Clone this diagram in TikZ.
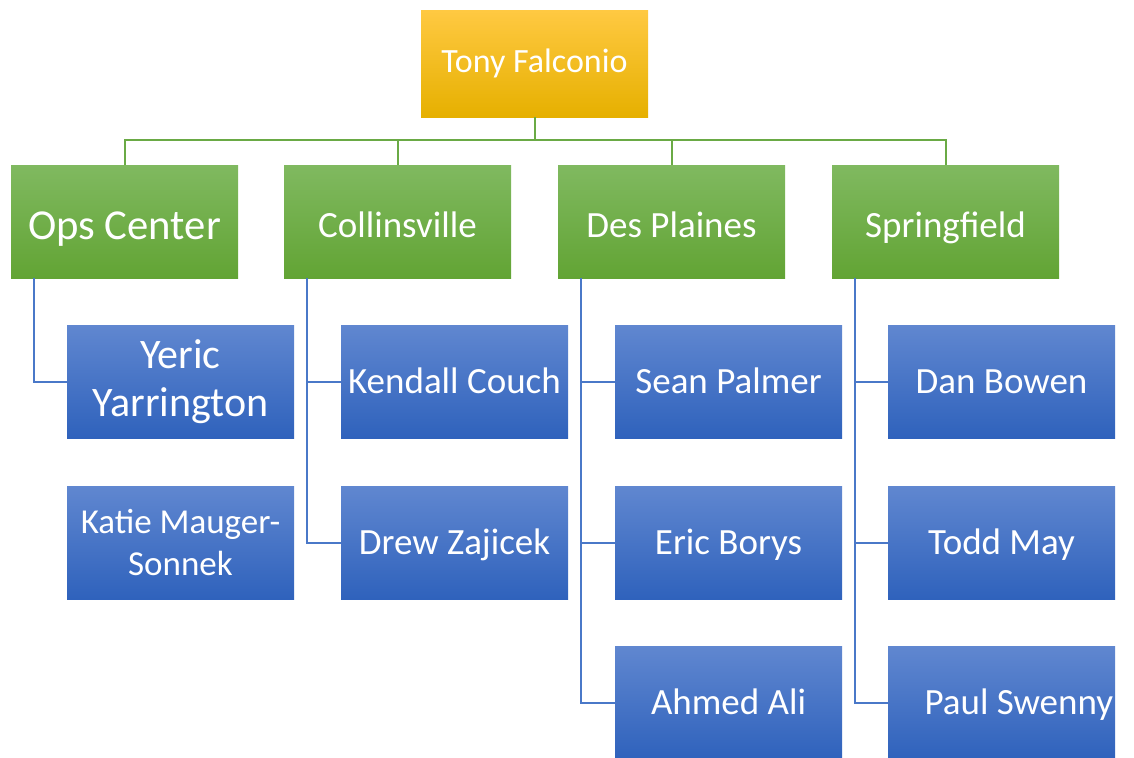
\documentclass[tikz,border=0pt]{standalone}
\usepackage{fontspec}
\setmainfont{Carlito}
\usepackage{tikz}
\usetikzlibrary{positioning}
\definecolor{bosstop}{HTML}{FFC942}
\definecolor{bossmid}{HTML}{FFC000}
\definecolor{bossbot}{HTML}{E6B000}
\definecolor{sitetop}{HTML}{80B960}
\definecolor{sitebot}{HTML}{62A434}
\definecolor{stafftop}{HTML}{6087D0}
\definecolor{staffbot}{HTML}{2F62BC}
\definecolor{greenline}{HTML}{6AAA45}
\definecolor{blueline}{HTML}{4A78C8}

\begin{document}
\begin{tikzpicture}[x=0.75pt, y=-0.75pt,
    box/.style={shape=rectangle, minimum width=170.25pt, minimum height=84.75pt,
        inner xsep=0pt, inner ysep=2pt, text=white, align=center, font=\fontsize{27.75}{32}\selectfont},
    boss/.style={box, minimum height=80.25pt, top color=bosstop, middle color=bossmid, bottom color=bossbot,
        font=\fontsize{25.5}{30}\selectfont, text height=19.5pt, text depth=6pt},
    site/.style={box, top color=sitetop, bottom color=sitebot, text height=30pt, text depth=6pt},
    staff/.style={box, top color=stafftop, bottom color=staffbot, text height=24pt, text depth=6pt},
    twolines/.style={text height=, text depth=},
    tree/.style={draw=greenline, line width=1.5pt},
    reports/.style={draw=blueline, line width=1.5pt}]

    \useasboundingbox (0,0) rectangle (1134,757);

    \node[boss] (tony) at (534.5,63.5) {Tony Falconio};

    \node[site, font=\fontsize{32}{37}\selectfont, text height=32.25pt] (ops) at (124.5,221.5) {Ops Center};
    \node[site] (collins) at (397.5,221.5) {Collinsville};
    \node[site] (desplaines) at (671.5,221.5) {Des Plaines};
    \node[site] (springfield) at (945.5,221.5) {Springfield};

    \node[staff, twolines, font=\fontsize{31.5}{36}\selectfont] (yeric) at (180.5,381.5) {Yeric\\Yarrington};
    \node[staff, twolines, font=\fontsize{26.25}{31.5}\selectfont] (katie) at (180.5,542.5) {Katie Mauger-\\Sonnek};
    \node[staff] (kendall) at (454.5,381.5) {Kendall Couch};
    \node[staff] (drew) at (454.5,542.5) {Drew Zajicek};
    \node[staff] (sean) at (728.5,381.5) {Sean Palmer};
    \node[staff] (eric) at (728.5,542.5) {Eric Borys};
    \node[staff] (ahmed) at (728.5,702.5) {Ahmed Ali};
    \node[staff] (dan) at (1001.5,381.5) {Dan Bowen};
    \node[staff] (todd) at (1001.5,542.5) {Todd May};
    \node[staff] (paul) at (1001.5,702.5) {\hspace*{26pt}Paul Swenny};

    \coordinate (bus) at (534.5,140);
    \draw[tree] (tony.south) -- (bus);
    \draw[tree] (bus) -| (ops.north);
    \draw[tree] (bus) -| (collins.north);
    \draw[tree] (bus) -| (desplaines.north);
    \draw[tree] (bus) -| (springfield.north);

    \draw[reports] ([xshift=17.25pt]ops.south west) |- (yeric.west);
    \draw[reports] ([xshift=17.25pt]collins.south west) |- (kendall.west);
    \draw[reports] ([xshift=17.25pt]collins.south west) |- (drew.west);
    \draw[reports] ([xshift=17.25pt]desplaines.south west) |- (sean.west);
    \draw[reports] ([xshift=17.25pt]desplaines.south west) |- (eric.west);
    \draw[reports] ([xshift=17.25pt]desplaines.south west) |- (ahmed.west);
    \draw[reports] ([xshift=17.25pt]springfield.south west) |- (dan.west);
    \draw[reports] ([xshift=17.25pt]springfield.south west) |- (todd.west);
    \draw[reports] ([xshift=17.25pt]springfield.south west) |- (paul.west);

\end{tikzpicture}
\end{document}
